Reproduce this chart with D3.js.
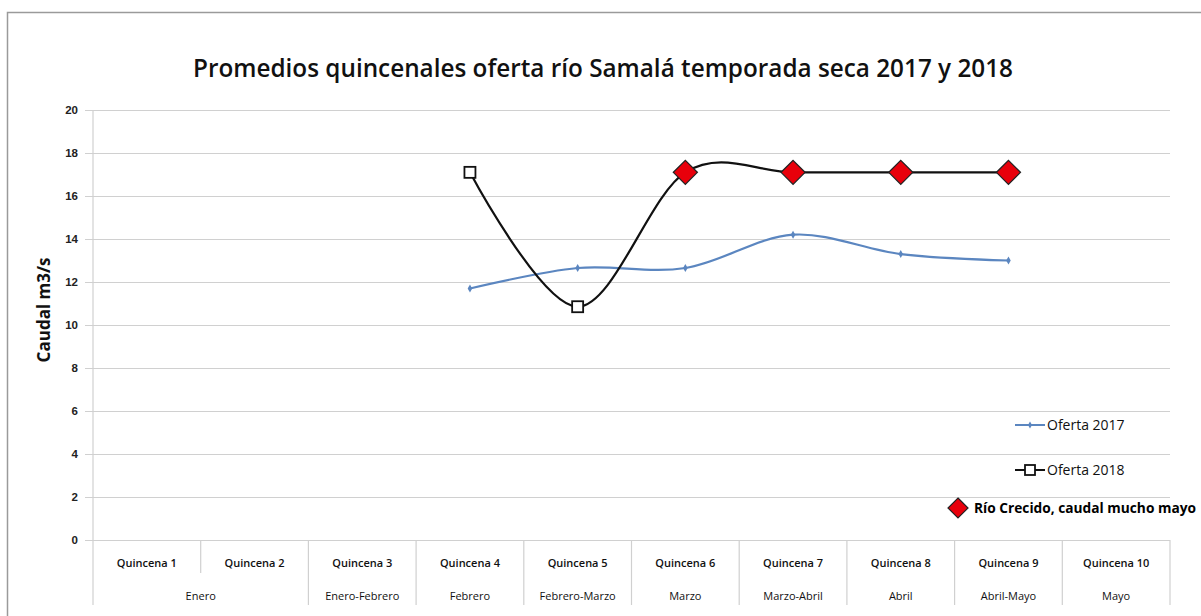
<!DOCTYPE html>
<html>
<head>
<meta charset="utf-8">
<script src="https://cdn.jsdelivr.net/npm/d3@7"></script>
<style>
  body { margin:0; background:#fff; }
  svg { display:block; font-family: "Open Sans", "Liberation Sans", sans-serif; }
</style>
</head>
<body>
<div id="chart"></div>
<script>
// Datos
var quincenas = ["Quincena 1","Quincena 2","Quincena 3","Quincena 4","Quincena 5",
                 "Quincena 6","Quincena 7","Quincena 8","Quincena 9","Quincena 10"];
// grupos de meses: etiqueta y cuántas quincenas abarca
var meses = ["Enero","Enero-Febrero","Febrero","Febrero-Marzo","Marzo","Marzo-Abril","Abril","Abril-Mayo","Mayo"];
var mesesSpan = [2,1,1,1,1,1,1,1,1];
var oferta2017 = [null,null,null,11.7,12.65,12.65,14.2,13.3,13.0,null];
var oferta2018 = [null,null,null,17.1,10.85,17.1,17.1,17.1,17.1,null];
var rioCrecido = [false,false,false,false,false,true,true,true,true,false];
var yTicks = [0,2,4,6,8,10,12,14,16,18,20];

var W = 1201, H = 616;
var margin = {top:110, left:93, right:31, bottom:76};
var width = W - margin.left - margin.right,
    height = H - margin.top - margin.bottom;

var svg = d3.select("#chart").append("svg").attr("width", W).attr("height", H);

// marco del gráfico
svg.append("rect").attr("x",7.5).attr("y",12.5).attr("width",1300).attr("height",700)
  .attr("fill","none").attr("stroke","#9a9a9a").attr("stroke-width",1.5);

svg.append("text").attr("x",603).attr("y",77).attr("text-anchor","middle")
  .style("font-size","26px").style("font-weight","600").attr("fill","#111")
  .attr("textLength",820).attr("lengthAdjust","spacingAndGlyphs")
  .text("Promedios quincenales oferta río Samalá temporada seca 2017 y 2018");

var g = svg.append("g").attr("transform","translate("+margin.left+","+margin.top+")");

var x = d3.scaleBand().domain(quincenas).range([0,width]);
var y = d3.scaleLinear().domain([0,20]).range([height,0]);

// grilla y eje Y
var yAxis = d3.axisLeft(y).tickValues(yTicks).tickSize(-width - 8).tickPadding(8);
var ya = g.append("g").call(yAxis);
ya.select(".domain").remove();
ya.selectAll(".tick line").attr("x1",-8).attr("x2",width).attr("stroke","#d0d0d0").attr("stroke-width",1.2);
ya.selectAll(".tick text").attr("x",-15).style("font-size","11.5px").style("font-weight","700").attr("fill","#222");
g.append("line").attr("x1",0).attr("x2",0).attr("y1",0).attr("y2",height+65)
  .attr("stroke","#d0d0d0").attr("stroke-width",1.2);

svg.append("text").attr("transform","translate(50,"+(margin.top+height/2 - 15)+") rotate(-90)")
  .attr("text-anchor","middle").style("font-size","17px").style("font-weight","700").attr("fill","#111")
  .text("Caudal m3/s");

// eje X de dos niveles
var xa = g.append("g").attr("transform","translate(0,"+height+")");
xa.selectAll("text.q").data(quincenas).enter().append("text")
  .attr("class","q").attr("x",function(d){return x(d)+x.bandwidth()/2;}).attr("y",27)
  .attr("text-anchor","middle").style("font-size","11px").style("font-weight","600").attr("fill","#111")
  .text(function(d){return d;});
var acc = 0;
var grupos = meses.map(function(m,i){ var s = acc; acc += mesesSpan[i]; return {label:m, start:s, span:mesesSpan[i]}; });
xa.selectAll("text.m").data(grupos).enter().append("text")
  .attr("class","m").attr("x",function(d){return x.step()*(d.start + d.span/2);}).attr("y",60)
  .attr("text-anchor","middle").style("font-size","11px").attr("fill","#111")
  .text(function(d){return d.label;});
// separadores
xa.selectAll("line.sep").data(d3.range(1,quincenas.length+1)).enter().append("line")
  .attr("class","sep").attr("x1",function(i){return x.step()*i;}).attr("x2",function(i){return x.step()*i;})
  .attr("y1",0).attr("y2",function(i){
    var finGrupo = grupos.some(function(gr){return gr.start+gr.span===i;});
    return finGrupo ? 65 : 33;
  })
  .attr("stroke","#d0d0d0").attr("stroke-width",1.2);

// líneas
function cx(i){ return x(quincenas[i]) + x.bandwidth()/2; }
var line = d3.line().defined(function(d){return d!==null;})
  .x(function(d,i){return cx(i);}).y(function(d){return y(d);})
  .curve(d3.curveCardinal.tension(0));

g.append("path").datum(oferta2017).attr("d",line).attr("fill","none")
  .attr("stroke","#5b86c0").attr("stroke-width",2.2);
g.selectAll("path.p17").data(oferta2017.map(function(v,i){return {v:v,i:i};}).filter(function(d){return d.v!==null;}))
  .enter().append("path").attr("class","p17")
  .attr("d",d3.symbol().type(d3.symbolDiamond).size(18))
  .attr("transform",function(d){return "translate("+cx(d.i)+","+y(d.v)+")";})
  .attr("fill","#5b86c0");

g.append("path").datum(oferta2018).attr("d",line).attr("fill","none")
  .attr("stroke","#111").attr("stroke-width",2.2);
var pts18 = oferta2018.map(function(v,i){return {v:v,i:i,rio:rioCrecido[i]};}).filter(function(d){return d.v!==null;});
g.selectAll("rect.p18").data(pts18.filter(function(d){return !d.rio;})).enter().append("rect")
  .attr("x",function(d){return cx(d.i)-5.5;}).attr("y",function(d){return y(d.v)-5.5;})
  .attr("width",11).attr("height",11).attr("fill","#fff").attr("stroke","#111").attr("stroke-width",1.8);
g.selectAll("path.rio").data(pts18.filter(function(d){return d.rio;})).enter().append("path")
  .attr("class","rio")
  .attr("d","M0,-12L12,0L0,12L-12,0Z")
  .attr("transform",function(d){return "translate("+cx(d.i)+","+y(d.v)+")";})
  .attr("fill","#e8000b").attr("stroke","#222").attr("stroke-width",1.3);

// leyenda
var leg = svg.append("g");
leg.append("line").attr("x1",1015).attr("x2",1045).attr("y1",425).attr("y2",425).attr("stroke","#5b86c0").attr("stroke-width",2);
leg.append("path").attr("d",d3.symbol().type(d3.symbolDiamond).size(14)).attr("transform","translate(1030,425)").attr("fill","#5b86c0");
leg.append("text").attr("x",1047).attr("y",430).style("font-size","14px").attr("fill","#111").text("Oferta 2017");
leg.append("line").attr("x1",1015).attr("x2",1045).attr("y1",470).attr("y2",470).attr("stroke","#111").attr("stroke-width",2);
leg.append("rect").attr("x",1025).attr("y",465).attr("width",10).attr("height",10).attr("fill","#fff").attr("stroke","#111").attr("stroke-width",1.8);
leg.append("text").attr("x",1047).attr("y",475).style("font-size","14px").attr("fill","#111").text("Oferta 2018");
leg.append("path").attr("d","M0,-10L10,0L0,10L-10,0Z").attr("transform","translate(958,508)")
  .attr("fill","#e8000b").attr("stroke","#222").attr("stroke-width",1.2);
leg.append("text").attr("x",974).attr("y",513).style("font-size","14px").style("font-weight","700").attr("fill","#000")
  .attr("textLength",222).attr("lengthAdjust","spacingAndGlyphs")
  .text("Río Crecido, caudal mucho mayo");
</script>
</body>
</html>
